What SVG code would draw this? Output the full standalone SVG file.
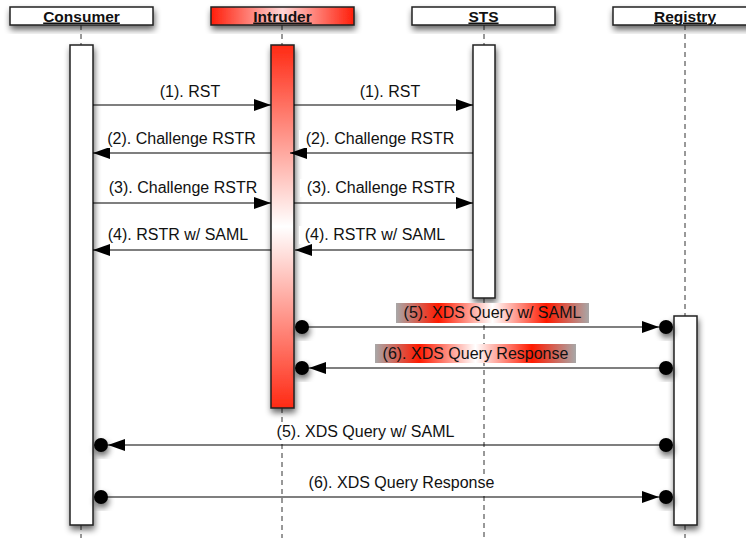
<svg xmlns="http://www.w3.org/2000/svg" width="746" height="538" viewBox="0 0 746 538">
<defs>
<filter id="sh" x="-50%" y="-50%" width="200%" height="200%">
<feGaussianBlur in="SourceAlpha" stdDeviation="3"/>
<feOffset dx="1" dy="4" result="b"/>
<feComponentTransfer><feFuncA type="linear" slope="0.6"/></feComponentTransfer>
<feMerge><feMergeNode/><feMergeNode in="SourceGraphic"/></feMerge>
</filter>
<linearGradient id="hdrRed" x1="0" y1="0" x2="1" y2="0">
<stop offset="0" stop-color="#ff1e0a"/>
<stop offset="0.5" stop-color="#ffd6d6"/>
<stop offset="1" stop-color="#ff1e0a"/>
</linearGradient>
<linearGradient id="barRed" x1="0" y1="0" x2="0" y2="1">
<stop offset="0" stop-color="#ff2a14"/>
<stop offset="0.5" stop-color="#ffffff"/>
<stop offset="1" stop-color="#ff2a14"/>
</linearGradient>
<linearGradient id="lblRed" x1="0" y1="0" x2="1" y2="0">
<stop offset="0" stop-color="#a8a8a8"/>
<stop offset="0.22" stop-color="#ff1a00"/>
<stop offset="0.5" stop-color="#ffffff"/>
<stop offset="0.78" stop-color="#ff1a00"/>
<stop offset="1" stop-color="#a8a8a8"/>
</linearGradient>
<marker id="ah" markerWidth="17" markerHeight="12" refX="17" refY="6" orient="auto" markerUnits="userSpaceOnUse">
<path d="M0,0 L17,6 L0,12 Z" fill="#000"/>
</marker>
</defs>
<style>
.hdr{stroke:#222;stroke-width:1.5;fill:#fff}
.htx{font-family:"Liberation Sans",Arial,sans-serif;font-weight:bold;font-size:15.5px;text-anchor:middle;text-decoration:underline;fill:#111}
.bar{stroke:#222;stroke-width:1.5;fill:#fff}
.life{stroke:#333;stroke-width:1;stroke-dasharray:5,4;fill:none}
.msg{stroke:#000;stroke-width:1.2;fill:none}
.lbl{font-family:"Liberation Sans",Arial,sans-serif;font-size:16px;text-anchor:middle;fill:#111}
.bg{fill:#fff}
.dot{fill:#000}
</style>

<g id="lifelines">
<line class="life" x1="81" y1="25" x2="81" y2="45"/>
<line class="life" x1="81" y1="525" x2="81" y2="538"/>
<line class="life" x1="282" y1="25" x2="282" y2="45"/>
<line class="life" x1="282" y1="408" x2="282" y2="538"/>
<line class="life" x1="484" y1="25" x2="484" y2="45"/>
<line class="life" x1="484" y1="298" x2="484" y2="538"/>
<line class="life" x1="685" y1="25" x2="685" y2="316"/>
<line class="life" x1="685" y1="525" x2="685" y2="538"/>
</g>

<g id="consumer">
<rect class="hdr" x="10" y="7" width="143" height="18" filter="url(#sh)"/>
<text class="htx" x="81.5" y="21.5">Consumer</text>
<rect class="bar" x="70" y="45" width="23" height="480" filter="url(#sh)"/>
</g>
<g id="intruder">
<rect class="hdr" x="211" y="7" width="143" height="18" style="fill:url(#hdrRed)" filter="url(#sh)"/>
<text class="htx" x="282.5" y="21.5">Intruder</text>
<rect class="bar" x="271" y="45" width="23" height="363" style="fill:url(#barRed)" filter="url(#sh)"/>
</g>
<g id="sts">
<rect class="hdr" x="412" y="7" width="143" height="18" filter="url(#sh)"/>
<text class="htx" x="483.5" y="21.5">STS</text>
<rect class="bar" x="473" y="45" width="22" height="253" filter="url(#sh)"/>
</g>
<g id="registry">
<rect class="hdr" x="613" y="7" width="144" height="18" filter="url(#sh)"/>
<text class="htx" x="685" y="21.5">Registry</text>
<rect class="bar" x="674" y="316" width="23" height="209" filter="url(#sh)"/>
</g>

<g id="connectors">
<line class="msg" x1="93" y1="105" x2="271" y2="105" marker-end="url(#ah)"/>
<rect class="bg" x="156" y="83" width="68" height="18"/>
<text class="lbl" x="190" y="97">(1). RST</text>
<line class="msg" x1="294" y1="105" x2="473" y2="105" marker-end="url(#ah)"/>
<rect class="bg" x="356" y="83" width="68" height="18"/>
<text class="lbl" x="390" y="97">(1). RST</text>

<line class="msg" x1="271" y1="153" x2="93" y2="153" marker-end="url(#ah)"/>
<rect class="bg" x="100" y="130" width="163" height="18"/>
<text class="lbl" x="181.5" y="144">(2). Challenge RSTR</text>
<line class="msg" x1="473" y1="153" x2="290" y2="153" marker-end="url(#ah)"/>
<rect class="bg" x="299" y="130" width="162" height="18"/>
<text class="lbl" x="380" y="144">(2). Challenge RSTR</text>

<line class="msg" x1="93" y1="203" x2="271" y2="203" marker-end="url(#ah)"/>
<rect class="bg" x="102" y="179" width="162" height="18"/>
<text class="lbl" x="183" y="193">(3). Challenge RSTR</text>
<line class="msg" x1="294" y1="203" x2="473" y2="203" marker-end="url(#ah)"/>
<rect class="bg" x="300" y="179" width="162" height="18"/>
<text class="lbl" x="381" y="193">(3). Challenge RSTR</text>

<line class="msg" x1="271" y1="250" x2="93" y2="250" marker-end="url(#ah)"/>
<rect class="bg" x="102" y="226" width="152" height="18"/>
<text class="lbl" x="178" y="240">(4). RSTR w/ SAML</text>
<line class="msg" x1="473" y1="250" x2="295" y2="250" marker-end="url(#ah)"/>
<rect class="bg" x="299" y="226" width="152" height="18"/>
<text class="lbl" x="375" y="240">(4). RSTR w/ SAML</text>

<line class="msg" x1="302" y1="327" x2="659" y2="327" marker-end="url(#ah)"/>
<circle class="dot" cx="302" cy="327" r="7" filter="url(#sh)"/>
<circle class="dot" cx="666" cy="327" r="7" filter="url(#sh)"/>
<rect x="396" y="303" width="193" height="20" style="fill:url(#lblRed)"/>
<text class="lbl" x="492.5" y="318">(5). XDS Query w/ SAML</text>

<line class="msg" x1="666" y1="368" x2="309" y2="368" marker-end="url(#ah)"/>
<circle class="dot" cx="666" cy="368" r="7" filter="url(#sh)"/>
<circle class="dot" cx="302" cy="368" r="7" filter="url(#sh)"/>
<rect x="375" y="344" width="201" height="19" style="fill:url(#lblRed)"/>
<text class="lbl" x="475.5" y="358.5">(6). XDS Query Response</text>

<line class="msg" x1="666" y1="445" x2="108" y2="445" marker-end="url(#ah)"/>
<circle class="dot" cx="666" cy="445" r="7" filter="url(#sh)"/>
<circle class="dot" cx="101" cy="445" r="7" filter="url(#sh)"/>
<rect class="bg" x="272" y="423" width="187" height="18"/>
<text class="lbl" x="365.5" y="437">(5). XDS Query w/ SAML</text>

<line class="msg" x1="101" y1="497" x2="659" y2="497" marker-end="url(#ah)"/>
<circle class="dot" cx="101" cy="497" r="7" filter="url(#sh)"/>
<circle class="dot" cx="666" cy="497" r="7" filter="url(#sh)"/>
<rect class="bg" x="304" y="474" width="195" height="18"/>
<text class="lbl" x="401.5" y="488">(6). XDS Query Response</text>
</g>
</svg>
